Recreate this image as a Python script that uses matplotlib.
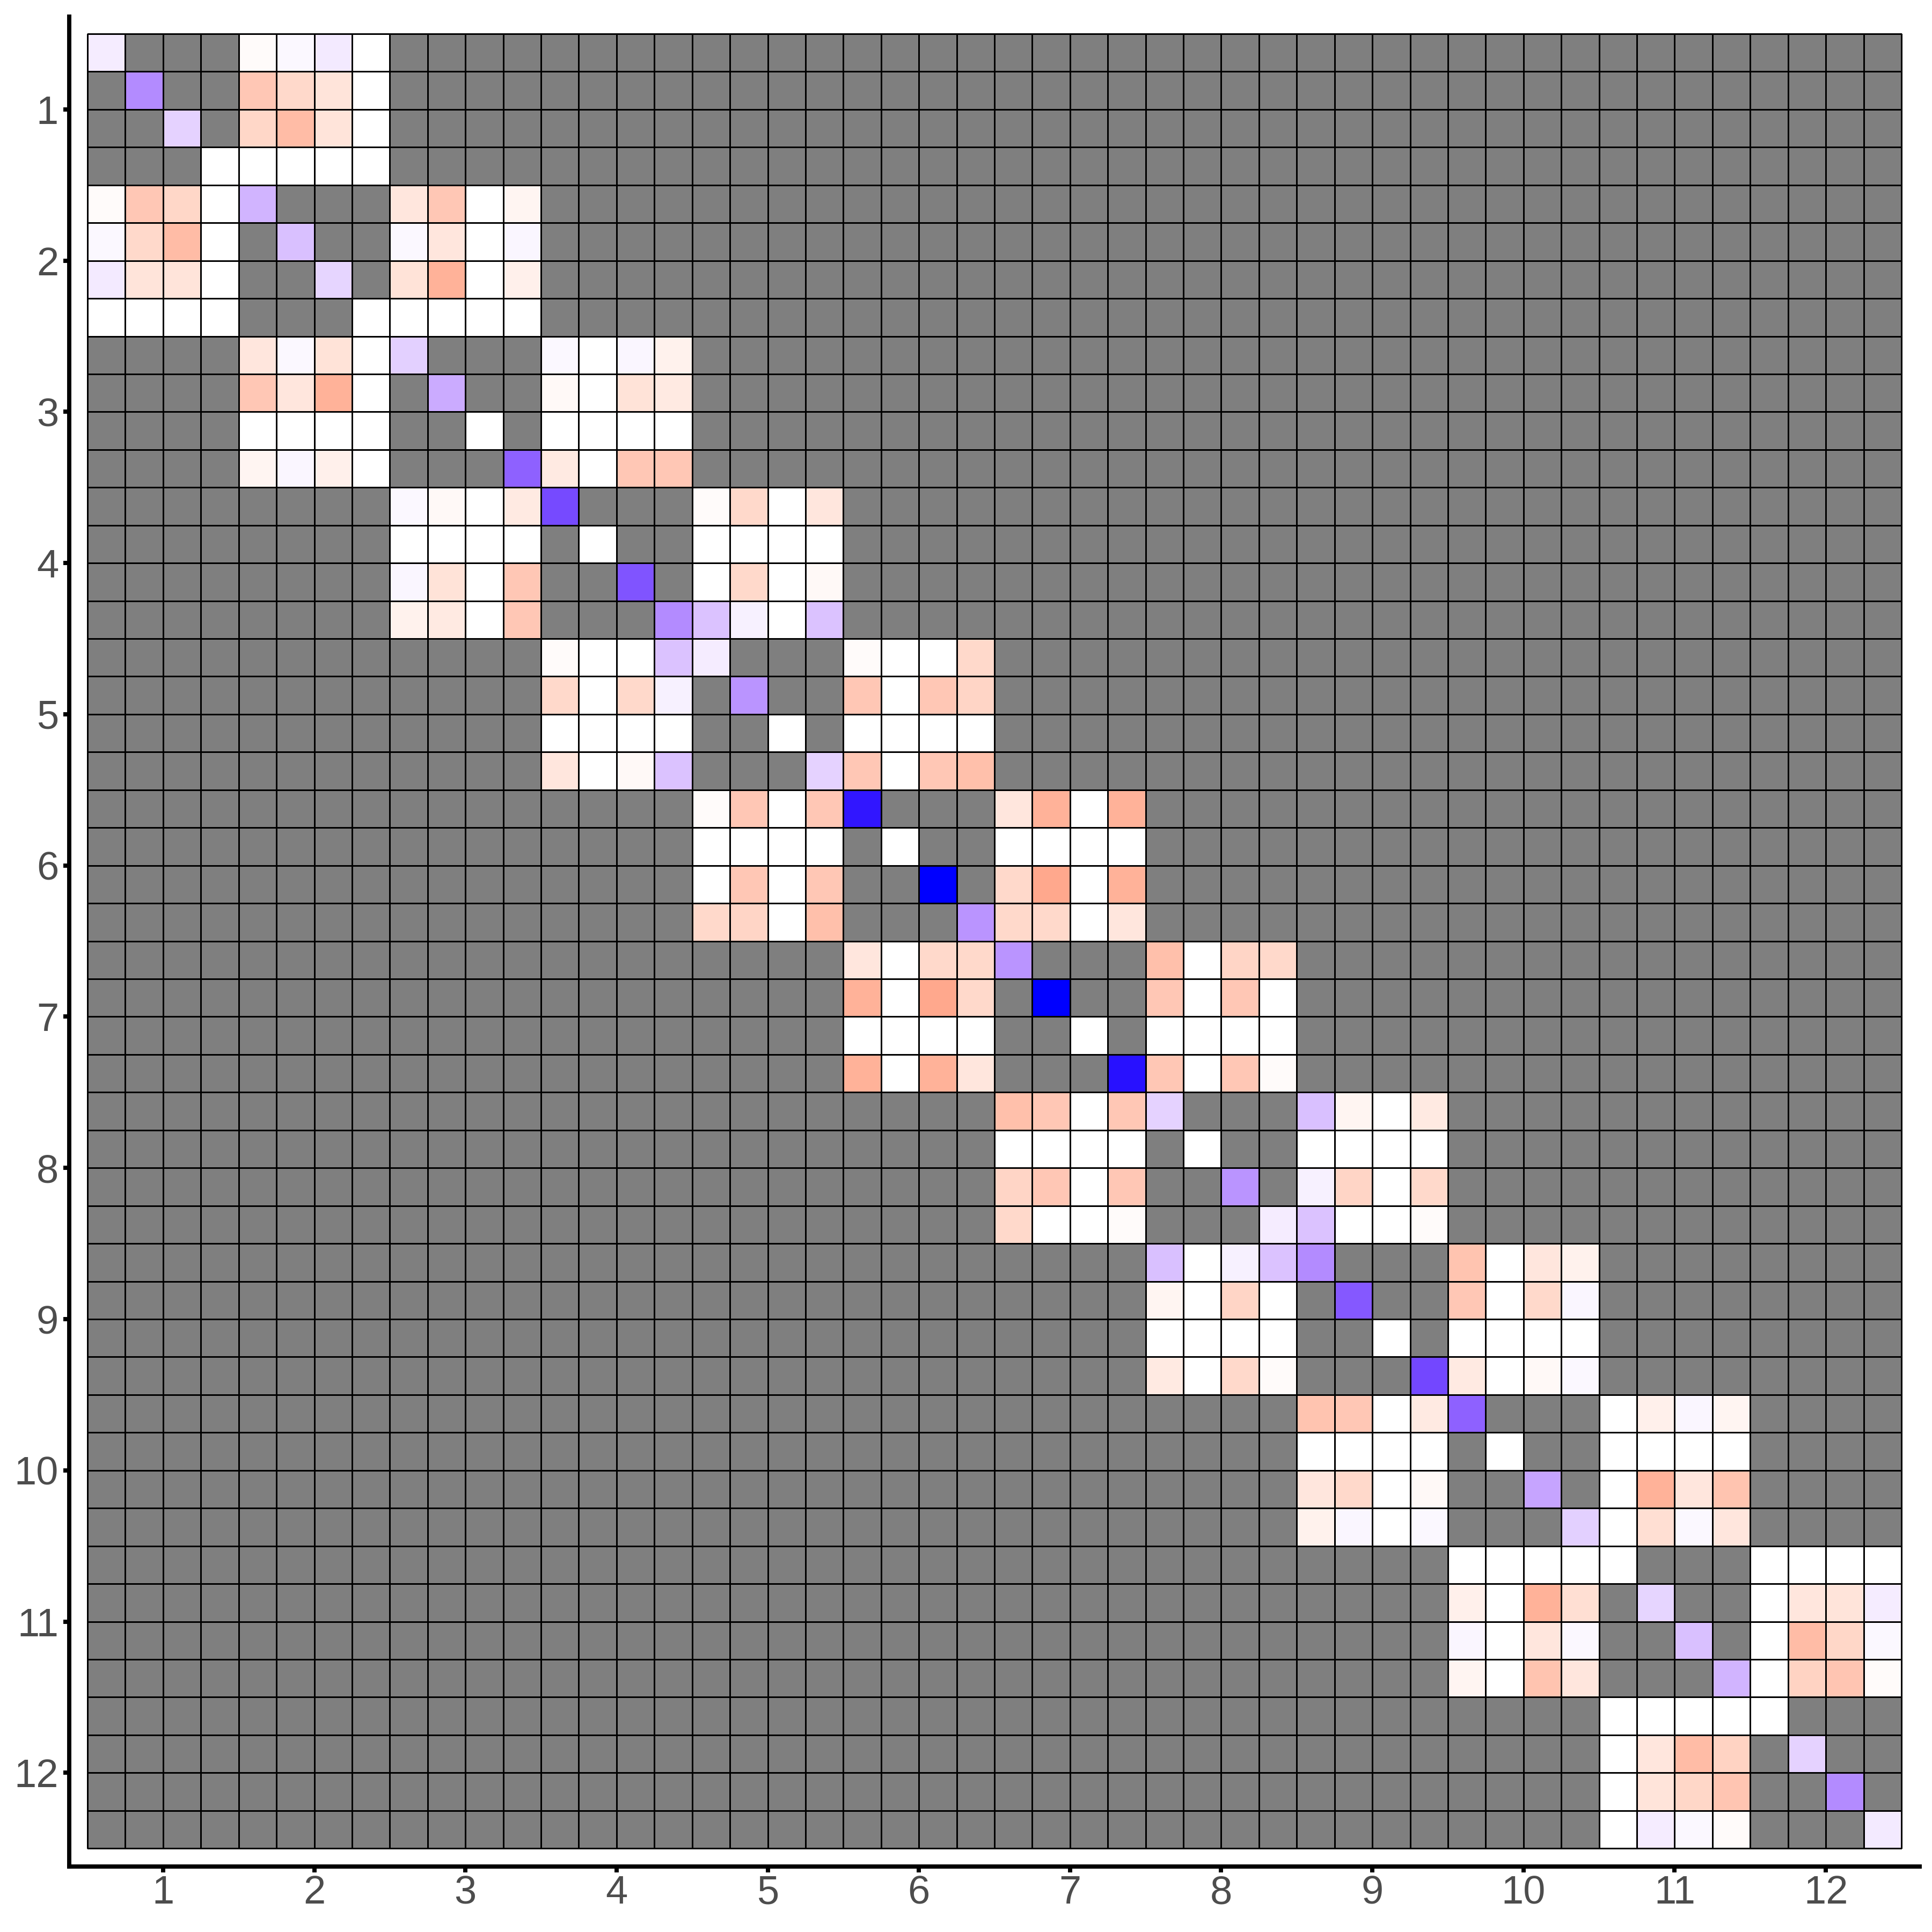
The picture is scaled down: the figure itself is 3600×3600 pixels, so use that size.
import numpy as np
import matplotlib
matplotlib.use("Agg")
import matplotlib.pyplot as plt
from matplotlib.colors import ListedColormap, Normalize

# ─── Data ─────────────────────────────────────────────────────────────────────
N_BLOCKS = 12
BLOCK = 4
block_labels = [str(i) for i in range(1, N_BLOCKS + 1)]

# diagonal entries (one per variable, 48 in total)
diag_values = [
    0.08, 0.50, 0.19, 0.00,
    0.32, 0.27, 0.18, 0.00,
    0.20, 0.36, 0.00, 0.68,
    0.78, 0.00, 0.74, 0.50,
    0.08, 0.46, 0.00, 0.19,
    0.96, 0.00, 1.00, 0.46,
    0.46, 1.00, 0.00, 0.97,
    0.19, 0.00, 0.46, 0.08,
    0.50, 0.72, 0.00, 0.79,
    0.68, 0.00, 0.39, 0.20,
    0.00, 0.18, 0.27, 0.32,
    0.00, 0.19, 0.50, 0.09,
]

# off-diagonal blocks (k, k+1); the matrix is symmetric
upper_01 = [[-0.02, 0.03, 0.09, 0.00],
            [-0.29, -0.20, -0.14, 0.00],
            [-0.21, -0.35, -0.14, 0.00],
            [0.00, 0.00, 0.00, 0.00]]
upper_02 = [[-0.13, -0.29, 0.00, -0.05],
            [0.03, -0.13, 0.00, 0.04],
            [-0.15, -0.40, 0.00, -0.08],
            [0.00, 0.00, 0.00, 0.00]]
upper_03 = [[0.03, 0.00, 0.04, -0.07],
            [-0.03, 0.00, -0.15, -0.11],
            [0.00, 0.00, 0.00, 0.00],
            [-0.11, 0.00, -0.29, -0.29]]
upper_04 = [[-0.02, -0.20, 0.00, -0.13],
            [0.00, 0.00, 0.00, 0.00],
            [0.00, -0.20, 0.00, -0.03],
            [0.26, 0.06, 0.00, 0.26]]
upper_05 = [[-0.02, 0.00, 0.00, -0.20],
            [-0.29, 0.00, -0.29, -0.22],
            [0.00, 0.00, 0.00, 0.00],
            [-0.29, 0.00, -0.29, -0.33]]
upper_06 = [[-0.13, -0.40, 0.00, -0.40],
            [0.00, 0.00, 0.00, 0.00],
            [-0.20, -0.45, 0.00, -0.40],
            [-0.20, -0.20, 0.00, -0.13]]
upper_07 = [[-0.33, 0.00, -0.22, -0.20],
            [-0.29, 0.00, -0.29, 0.00],
            [0.00, 0.00, 0.00, 0.00],
            [-0.29, 0.00, -0.29, -0.02]]
upper_08 = [[0.27, -0.05, 0.00, -0.11],
            [0.00, 0.00, 0.00, 0.00],
            [0.06, -0.22, 0.00, -0.20],
            [0.26, 0.00, 0.00, -0.02]]
upper_09 = [[-0.31, 0.00, -0.13, -0.07],
            [-0.29, 0.00, -0.20, 0.04],
            [0.00, 0.00, 0.00, 0.00],
            [-0.11, 0.00, -0.03, 0.03]]
upper_10 = [[0.00, -0.08, 0.04, -0.05],
            [0.00, 0.00, 0.00, 0.00],
            [0.00, -0.40, -0.13, -0.31],
            [0.00, -0.17, 0.03, -0.13]]
upper_11 = [[0.00, 0.00, 0.00, 0.00],
            [0.00, -0.13, -0.14, 0.08],
            [0.00, -0.35, -0.21, 0.03],
            [0.00, -0.23, -0.30, -0.02]]
upper_blocks = [upper_01, upper_02, upper_03, upper_04, upper_05, upper_06,
                upper_07, upper_08, upper_09, upper_10, upper_11]

# ─── Matrix (NaN = not estimated, grey) ───────────────────────────────────────
n = N_BLOCKS * BLOCK
mat = np.full((n, n), np.nan)
mat[np.arange(n), np.arange(n)] = diag_values
for k, blk in enumerate(upper_blocks):
    r0, c0 = k * BLOCK, (k + 1) * BLOCK
    blk = np.array(blk)
    mat[r0:r0 + BLOCK, c0:c0 + BLOCK] = blk
    mat[c0:c0 + BLOCK, r0:r0 + BLOCK] = blk.T


# ─── red-white-blue gradient interpolated in CIELAB (like ggplot) ─────────────
WHITE_XYZ = np.array([0.95047, 1.0, 1.08883])
M_RGB2XYZ = np.array([[0.4124, 0.3576, 0.1805],
                      [0.2126, 0.7152, 0.0722],
                      [0.0193, 0.1192, 0.9505]])


def srgb_to_lab(rgb):
    rgb = np.asarray(rgb, float)
    lin = np.where(rgb <= 0.04045, rgb / 12.92, ((rgb + 0.055) / 1.055) ** 2.4)
    xyz = lin @ M_RGB2XYZ.T / WHITE_XYZ
    d = 6 / 29
    f = np.where(xyz > d ** 3, np.cbrt(xyz), xyz / (3 * d ** 2) + 4 / 29)
    L = 116 * f[..., 1] - 16
    a = 500 * (f[..., 0] - f[..., 1])
    b = 200 * (f[..., 1] - f[..., 2])
    return np.stack([L, a, b], axis=-1)


def lab_to_srgb(lab):
    L, a, b = lab[..., 0], lab[..., 1], lab[..., 2]
    fy = (L + 16) / 116
    fx = fy + a / 500
    fz = fy - b / 200
    d = 6 / 29
    f = np.stack([fx, fy, fz], axis=-1)
    xyz = np.where(f > d, f ** 3, 3 * d ** 2 * (f - 4 / 29)) * WHITE_XYZ
    lin = xyz @ np.linalg.inv(M_RGB2XYZ).T
    lin = np.clip(lin, 0, 1)
    rgb = np.where(lin <= 0.0031308, 12.92 * lin, 1.055 * lin ** (1 / 2.4) - 0.055)
    return np.clip(rgb, 0, 1)


lab_red = srgb_to_lab([1, 0, 0])
lab_white = srgb_to_lab([1, 1, 1])
lab_blue = srgb_to_lab([0, 0, 1])
t = np.linspace(-1, 1, 511)
lab = np.where(t[:, None] < 0,
               lab_white + (lab_red - lab_white) * (-t[:, None]),
               lab_white + (lab_blue - lab_white) * t[:, None])
cmap = ListedColormap(lab_to_srgb(lab))
cmap.set_bad("#7F7F7F")

# ─── Plot ─────────────────────────────────────────────────────────────────────
W = H = 3600
fig = plt.figure(figsize=(12, 12), dpi=300)
ax = fig.add_axes([129 / W, (H - 3478) / H, (3577 - 129) / W, (3478 - 31) / H])

edges = np.arange(0.5, n + 1.5, 1.0)
ax.pcolormesh(edges, edges, np.ma.masked_invalid(mat), cmap=cmap,
              norm=Normalize(-1, 1), edgecolors="black", linewidth=0.3)

# darker lines between blocks
for b in np.arange(0.5, n + 1, BLOCK):
    ax.plot([0.5, n + 0.5], [b, b], color="black", lw=0.6, solid_capstyle="butt")
    ax.plot([b, b], [0.5, n + 0.5], color="black", lw=0.6, solid_capstyle="butt")

ax.set_xlim(0.017, 48.983)
ax.set_ylim(48.98, 0.046)

centers = np.arange(BLOCK / 2 + 0.5, n, BLOCK)
ax.set_xticks(centers)
ax.set_xticklabels(block_labels)
ax.set_yticks(centers)
ax.set_yticklabels(block_labels)

for side in ["top", "right"]:
    ax.spines[side].set_visible(False)
for side in ["left", "bottom"]:
    ax.spines[side].set_linewidth(1.9)
    ax.spines[side].set_color("black")

ax.tick_params(axis="both", length=2.6, width=1.9, color="black",
               labelsize=17.8, labelcolor="#4D4D4D")
ax.tick_params(axis="x", pad=1.0)
ax.tick_params(axis="y", pad=2.2)
for lbl in ax.get_xticklabels() + ax.get_yticklabels():
    lbl.set_fontfamily(["Liberation Sans", "DejaVu Sans"])

fig.savefig("out.png", dpi=300)
plt.close(fig)
